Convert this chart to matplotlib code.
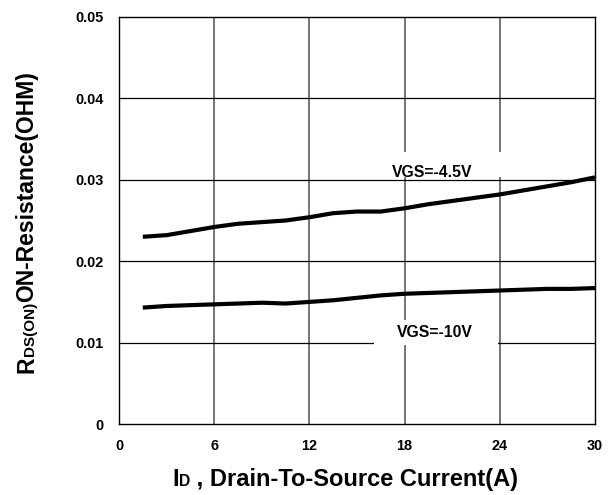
import matplotlib.pyplot as plt
from matplotlib.patches import Rectangle
import matplotlib.transforms as mtransforms

plt.rcParams['font.family'] = ['Liberation Sans', 'DejaVu Sans']
plt.rcParams['font.weight'] = 'bold'

# data
id_a = [1.5, 3, 4.5, 6, 7.5, 9, 10.5, 12, 13.5, 15, 16.5, 18, 19.5, 21, 22.5, 24, 25.5, 27, 28.5, 30]
r_vgs45 = [0.0230, 0.0232, 0.0237, 0.0242, 0.0246, 0.0248, 0.0250, 0.0254, 0.0259, 0.0261,
           0.0261, 0.0265, 0.0270, 0.0274, 0.0278, 0.0282, 0.0287, 0.0292, 0.0297, 0.0303]
r_vgs10 = [0.0143, 0.0145, 0.0146, 0.0147, 0.0148, 0.0149, 0.0148, 0.0150, 0.0152, 0.0155,
           0.0158, 0.0160, 0.0161, 0.0162, 0.0163, 0.0164, 0.0165, 0.0166, 0.0166, 0.0167]
xticks = [0, 6, 12, 18, 24, 30]
yticks = [0, 0.01, 0.02, 0.03, 0.04, 0.05]
ytick_labels = ['0', '0.01', '0.02', '0.03', '0.04', '0.05']

fig = plt.figure(figsize=(6.14, 4.95), dpi=100)
ax = fig.add_axes([0.1938, 0.1434, 0.7752, 0.8223])

ax.set_xlim(0, 30)
ax.set_ylim(0, 0.05)
ax.set_xticks(xticks)
ax.set_yticks(yticks)
ax.set_yticklabels(ytick_labels)
ax.tick_params(length=0, labelsize=10.4, pad=11)
for s in ax.spines.values():
    s.set_linewidth(1.0)

# grid: vertical grey, horizontal black
for x in xticks[1:-1]:
    ax.axvline(x, color='#505050', lw=1.1, zorder=1)
for y in yticks[1:-1]:
    ax.axhline(y, color='black', lw=0.9, zorder=1)

ax.plot(id_a, r_vgs45, color='black', lw=3, zorder=4, solid_capstyle='butt')
ax.plot(id_a, r_vgs10, color='black', lw=3, zorder=4, solid_capstyle='butt')

# white boxes behind curve labels
ax.add_patch(Rectangle((15.8, 0.0303), 8.4, 0.0031, facecolor='white', edgecolor='none', zorder=2))
ax.add_patch(Rectangle((16.1, 0.0097), 7.8, 0.0031, facecolor='white', edgecolor='none', zorder=2))
ax.text(17.2, 0.0304, 'VGS=-4.5V', fontsize=11.3, ha='left', va='baseline', zorder=3)
ax.text(19.9, 0.0112, 'VGS=-10V', fontsize=11.3, ha='center', va='center', zorder=3)


def mixed_label(parts, x, y, rotation=0):
    # draw consecutive pieces with different sizes on a common baseline
    fig.canvas.draw()
    r = fig.canvas.get_renderer()
    off = 0
    for txt, size in parts:
        if rotation:
            tr = mtransforms.offset_copy(fig.transFigure, fig=fig, x=0, y=off, units='dots')
        else:
            tr = mtransforms.offset_copy(fig.transFigure, fig=fig, x=off, y=0, units='dots')
        t = fig.text(x, y, txt, fontsize=size, fontweight='bold', ha='left', va='baseline',
                     rotation=rotation, rotation_mode='anchor', transform=tr)
        ext = t.get_window_extent(r)
        off += ext.height if rotation else ext.width


mixed_label([('I', 17), ('D', 11.3), (' , Drain-To-Source Current(A)', 17)], 172 / 614, 0.0182)
mixed_label([('R', 16.5), ('DS(ON)', 11), ('ON-Resistance(OHM)', 16.5)], 33.5 / 614, 0.2465, rotation=90)

fig.savefig('out.png', dpi=100)
